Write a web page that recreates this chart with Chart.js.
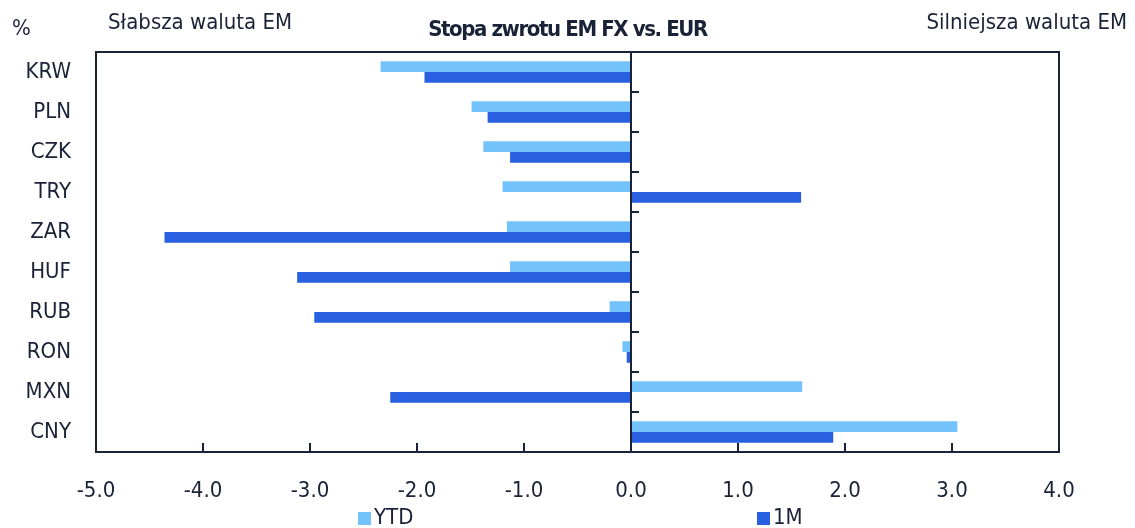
<!DOCTYPE html>
<html>
<head>
<meta charset="utf-8">
<script src="https://cdn.jsdelivr.net/npm/chart.js@4.4.1/dist/chart.umd.min.js"></script>
<style>
  html,body{margin:0;padding:0;background:#fff;}
  #wrap{position:relative;width:1135px;height:528px;font-family:"Liberation Sans Narrow","DejaVu Sans Condensed",sans-serif;color:#1a2238;}
  #wrap canvas{position:absolute;left:0;top:0;}
  .lbl{position:absolute;font-size:22px;white-space:nowrap;line-height:1;}
  .sw{display:inline-block;width:13px;height:13px;margin-right:3px;vertical-align:-1px;}
</style>
</head>
<body>
<div id="wrap">
  <canvas id="c" width="1135" height="528"></canvas>
  <div class="lbl" style="left:12px;top:17px;">%</div>
  <div class="lbl" style="left:108px;top:11px;">Słabsza waluta EM</div>
  <div class="lbl" id="title" style="left:0;width:1135px;text-align:center;top:18px;font-weight:bold;letter-spacing:-1.4px;font-size:22px;">Stopa zwrotu EM FX vs. EUR</div>
  <div class="lbl" style="right:8px;top:11px;">Silniejsza waluta EM</div>
  <div class="lbl" style="left:358px;top:506px;"><span class="sw" style="background:#73c2fb"></span>YTD</div>
  <div class="lbl" style="left:757px;top:506px;"><span class="sw" style="background:#2860e1"></span>1M</div>
</div>
<script>
// ====== DATA ======
const CATEGORIES = ['KRW','PLN','CZK','TRY','ZAR','HUF','RUB','RON','MXN','CNY'];
const YTD = [-2.34,-1.49,-1.38,-1.20,-1.16,-1.13,-0.20,-0.08,1.60,3.05];
const M1  = [-1.93,-1.34,-1.13,1.59,-4.36,-3.12,-2.96,-0.04,-2.25,1.89];
const X_MIN = -5, X_MAX = 4;

const NAVY = '#1a2238';
const FONT = '"Liberation Sans Narrow","DejaVu Sans Condensed",sans-serif';

// frame, zero line and inward tick marks
const framePlugin = {
  id:'frame',
  afterDatasetsDraw(chart){
    const {ctx, chartArea:a, scales:{x,y}} = chart;
    ctx.save();
    ctx.strokeStyle = NAVY;
    ctx.lineWidth = 2;
    ctx.strokeRect(a.left, a.top, a.right-a.left, a.bottom-a.top);
    const x0 = Math.round(x.getPixelForValue(0));
    ctx.beginPath(); ctx.moveTo(x0, a.top); ctx.lineTo(x0, a.bottom); ctx.stroke();
    // ticks on zero line between categories
    for(let i=0;i<CATEGORIES.length-1;i++){
      const yy = Math.round(y.getPixelForValue(i+0.5));
      ctx.beginPath(); ctx.moveTo(x0, yy); ctx.lineTo(x0+8, yy); ctx.stroke();
    }
    // x ticks pointing up from bottom
    for(let v=X_MIN+1; v<X_MAX; v++){
      const xx = Math.round(x.getPixelForValue(v));
      ctx.beginPath(); ctx.moveTo(xx, a.bottom); ctx.lineTo(xx, a.bottom-9); ctx.stroke();
    }
    ctx.restore();
  }
};

new Chart(document.getElementById('c'), {
  type:'bar',
  data:{
    labels:CATEGORIES,
    datasets:[
      {label:'YTD', data:YTD, backgroundColor:'#73c2fb', categoryPercentage:0.54, barPercentage:1},
      {label:'1M',  data:M1,  backgroundColor:'#2860e1', categoryPercentage:0.54, barPercentage:1}
    ]
  },
  options:{
    indexAxis:'y',
    responsive:false,
    animation:false,
    layout:{padding:{top:52,right:76,left:0,bottom:0}},
    plugins:{legend:{display:false}, tooltip:{enabled:false}},
    scales:{
      x:{
        min:X_MIN, max:X_MAX,
        grid:{display:false, drawTicks:false},
        border:{display:false},
        ticks:{stepSize:1, padding:26, color:NAVY, font:{family:FONT, size:22},
               callback:v=>Number(v).toFixed(1)},
        afterFit:s=>{ s.height = 76; }
      },
      y:{
        grid:{display:false, drawTicks:false},
        border:{display:false},
        ticks:{padding:25, color:NAVY, font:{family:FONT, size:22}},
        afterFit:s=>{ s.width = 96; }
      }
    }
  },
  plugins:[framePlugin]
});
</script>
</body>
</html>
